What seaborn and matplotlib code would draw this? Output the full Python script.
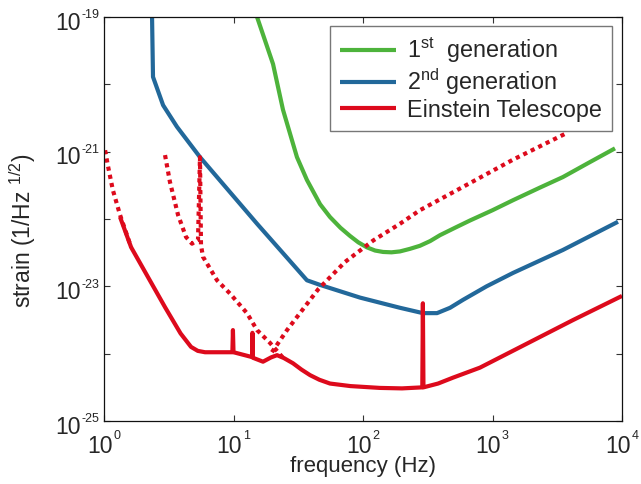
import numpy as np
import pandas as pd
import matplotlib
matplotlib.use("Agg")
import matplotlib.pyplot as plt
import seaborn as sns
from matplotlib.transforms import offset_copy
from matplotlib.lines import Line2D

# ---------------- data ----------------
gen1_freq = [15.2, 20.2, 24.1, 30.9, 36.9, 46.6, 55.6, 67.0, 79.4, 92.0, 107, 124, 143, 166, 193,
             230, 275, 330, 393, 520, 670, 1000, 1439, 2300, 3500, 5500, 8830]
gen1_strain = [1e-19, 2.0e-20, 4.2e-21, 8.3e-22, 3.8e-22, 1.66e-22, 1.07e-22, 7.4e-23, 5.6e-23,
               4.5e-23, 3.8e-23, 3.4e-23, 3.24e-23, 3.2e-23, 3.3e-23, 3.6e-23, 4.0e-23, 4.7e-23,
               5.75e-23, 7.5e-23, 9.5e-23, 1.35e-22, 1.9e-22, 2.9e-22, 4.2e-22, 6.8e-22, 1.12e-21]

gen2_freq = [2.35, 2.39, 2.86, 3.66, 5.51, 15.2, 36.9, 46.6, 94.9, 193, 290, 373, 470, 592, 900,
             1439, 3500, 9310]
gen2_strain = [1e-19, 1.29e-20, 4.9e-21, 2.34e-21, 8.3e-22, 8.5e-23, 1.23e-23, 1.05e-23, 6.8e-24,
               4.8e-24, 4.0e-24, 4.0e-24, 4.8e-24, 6.3e-24, 1.0e-23, 1.58e-23, 3.47e-23, 9.1e-23]

et_freq = [1.33, 1.62, 2.96, 3.9, 4.70, 5.3, 6.03, 9.8, 9.9, 10.0, 13.9, 14.0, 14.1, 16.9, 19.5,
           21.7, 24.5, 28.8, 33.5, 39.0, 46.0, 55.6, 80.0, 135, 200, 287, 290, 293, 380, 495, 800,
           1500, 4190, 10000]
et_strain = [1.07e-22, 3.8e-23, 4.9e-24, 2.0e-24, 1.26e-24, 1.1e-24, 1.05e-24, 1.05e-24, 2.24e-24,
             1.05e-24, 8.9e-25, 2.04e-24, 8.7e-25, 7.6e-25, 8.8e-25, 9.5e-25, 8.6e-25, 7.2e-25,
             5.8e-25, 4.8e-25, 4.1e-25, 3.6e-25, 3.3e-25, 3.1e-25, 3.05e-25, 3.16e-25, 5.6e-24,
             3.16e-25, 3.6e-25, 4.4e-25, 6.2e-25, 1.15e-24, 3.16e-24, 7.2e-24]

et_hf_freq = [1.02, 1.07, 1.17, 1.33, 1.62]
et_hf_strain = [1.05e-21, 6.3e-22, 2.7e-22, 1.15e-22, 3.8e-23]

et_lf_freq = [2.96, 3.23, 3.73, 4.30, 4.78, 5.32, 5.51, 5.61, 5.81, 7.46, 9.40, 12.7, 15.2, 19.1, 24.1]
et_lf_strain = [8.9e-22, 3.55e-22, 1.15e-22, 5.4e-23, 4.3e-23, 4.9e-23, 8.3e-22, 4.1e-23, 2.75e-23,
                1.23e-23, 7.8e-24, 4.0e-24, 2.24e-24, 1.45e-24, 8.7e-25]

et_rise_freq = [19.8, 25.9, 32.6, 45.0, 72.6, 120, 193, 275, 592, 1439, 3760]
et_rise_strain = [1.05e-24, 2.24e-24, 4.0e-24, 9.0e-24, 2.3e-23, 4.8e-23, 8.5e-23, 1.35e-22,
                  3.0e-22, 7.6e-22, 1.9e-21]

legend_labels = [r"1$^{\mathrm{st}}$  generation", r"2$^{\mathrm{nd}}$ generation", "Einstein Telescope"]
x_tick_values = [1, 10, 100, 1000, 10000]
x_tick_exps = ["0", "1", "2", "3", "4"]
y_tick_values = [1e-25, 1e-24, 1e-23, 1e-22, 1e-21, 1e-20, 1e-19]
y_label_values = [1e-25, 1e-23, 1e-21, 1e-19]
y_label_exps = ["-25", "-23", "-21", "-19"]

GREEN = "#4db33b"
BLUE = "#22689a"
RED = "#dd0a1c"

# ---------------- style ----------------
sns.set_style("white")
plt.rcParams["font.family"] = ["Liberation Sans", "DejaVu Sans"]
plt.rcParams["mathtext.fontset"] = "custom"
plt.rcParams["mathtext.rm"] = "Liberation Sans"
plt.rcParams["mathtext.it"] = "Liberation Sans:italic"

fig = plt.figure(figsize=(6.41, 4.84), dpi=100)
ax = fig.add_axes([104 / 641, 1 - 421 / 484, 518 / 641, 404 / 484])

def draw(freq, strain, color, ls="-"):
    df = pd.DataFrame({"f": freq, "h": strain})
    sns.lineplot(data=df, x="f", y="h", ax=ax, color=color, sort=False, estimator=None,
                 linewidth=3.0, linestyle=ls, legend=False)
    ln = ax.lines[-1]
    ln.set_solid_capstyle("butt")
    ln.set_solid_joinstyle("round")
    ln.set_dash_capstyle("butt")
    if ls != "-":
        ln.set_dashes((1, 1))
    return ln

draw(gen1_freq, gen1_strain, GREEN)
draw(gen2_freq, gen2_strain, BLUE)
draw(et_hf_freq, et_hf_strain, RED, ls=":")
draw(et_lf_freq, et_lf_strain, RED, ls=":")
draw(et_rise_freq, et_rise_strain, RED, ls=":")
draw(et_freq, et_strain, RED)

ax.set_xscale("log")
ax.set_yscale("log")
ax.set_xlim(1, 1e4)
ax.set_ylim(1e-25, 1e-19)
ax.set_xticks(x_tick_values)
ax.set_yticks(y_tick_values)
ax.xaxis.set_minor_locator(matplotlib.ticker.NullLocator())
ax.yaxis.set_minor_locator(matplotlib.ticker.NullLocator())
ax.set_xticklabels([])
ax.set_yticklabels([])
ax.set_xlabel("")
ax.set_ylabel("")
ax.tick_params(direction="in", length=4, width=0.8, color="#333333",
               top=True, right=True, bottom=True, left=True)
for s in ax.spines.values():
    s.set_visible(True)
    s.set_color("#111111")
    s.set_linewidth(0.9)

# tick labels as "10" + small exponent
xt = ax.get_xaxis_transform()
for v, e in zip(x_tick_values, x_tick_exps):
    ax.text(v, 0, "10", transform=offset_copy(xt, fig, x=6.0, y=-23.0, units="points"),
            ha="right", va="baseline", fontsize=16.5, clip_on=False)
    ax.text(v, 0, e, transform=offset_copy(xt, fig, x=6.8, y=-13.0, units="points"),
            ha="left", va="baseline", fontsize=9, clip_on=False)
yt = ax.get_yaxis_transform()
for v, e in zip(y_label_values, y_label_exps):
    ax.text(0, v, "10", transform=offset_copy(yt, fig, x=-17.0, y=-9.0, units="points"),
            ha="right", va="baseline", fontsize=16.5, clip_on=False)
    ax.text(0, v, e, transform=offset_copy(yt, fig, x=-16.5, y=-1.0, units="points"),
            ha="left", va="baseline", fontsize=9, clip_on=False)

ax.set_xlabel("frequency (Hz)", fontsize=16)
ax.xaxis.set_label_coords(0.5, -0.086)
ax.set_ylabel(r"strain (1/Hz $^{1/2}$)", fontsize=16.5)
ax.yaxis.set_label_coords(-0.128, 0.47)

handles = [Line2D([], [], color=c, lw=3.0, solid_capstyle="butt") for c in (GREEN, BLUE, RED)]
leg = ax.legend(handles, legend_labels, loc="upper right",
                bbox_to_anchor=((612 - 104) / 518, (421 - 26) / 404),
                fontsize=16.8, frameon=True, fancybox=False, framealpha=1,
                edgecolor="#777777", handlelength=2.4, handletextpad=0.5,
                labelspacing=0.06, borderpad=0.42, borderaxespad=0)
leg.get_frame().set_linewidth(1.0)

fig.savefig("out.png", dpi=100)
